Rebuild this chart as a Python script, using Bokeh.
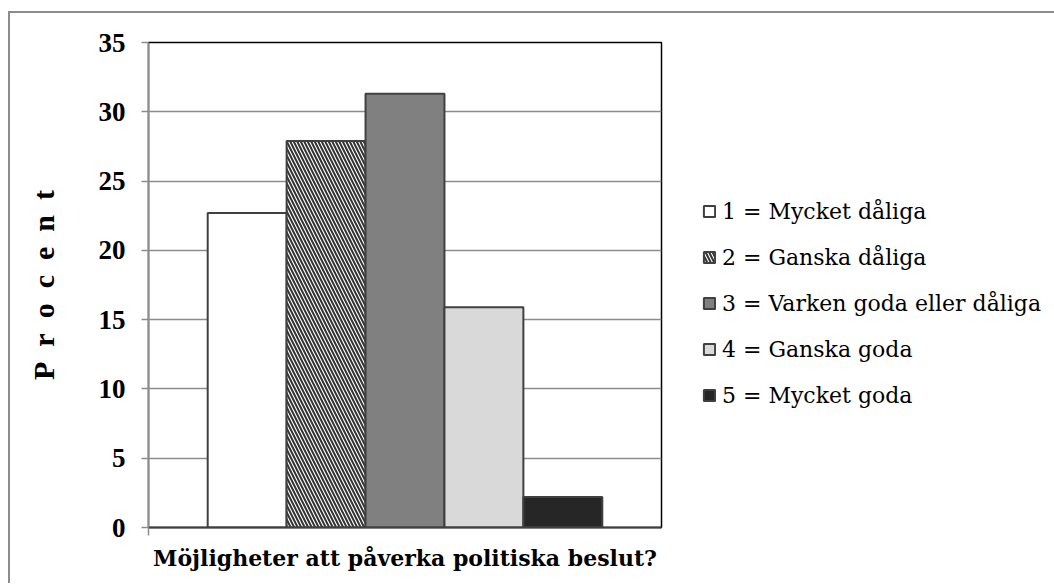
from bokeh.plotting import figure
from bokeh.models import Legend, LegendItem, FixedTicker, Range1d
from bokeh.embed import file_html
from bokeh.resources import INLINE

categories = ["1 = Mycket dåliga", "2 = Ganska dåliga", "3 = Varken goda eller dåliga",
              "4 = Ganska goda", "5 = Mycket goda"]
values = [22.7, 27.9, 31.3, 15.9, 2.2]
positions = [1, 2, 3, 4, 5]
y_ticks = [0, 5, 10, 15, 20, 25, 30, 35]
x_title = "Möjligheter att påverka politiska beslut?"
y_title = "\u00a0\u00a0".join("Procent")

fills = ["#ffffff", "#ffffff", "#808080", "#d9d9d9", "#262626"]
hatches = [" ", "\\", " ", " ", " "]

p = figure(frame_width=513, frame_height=485, output_backend="svg", toolbar_location=None,
           x_range=Range1d(-0.25, 6.25), y_range=Range1d(0, 35),
           min_border_left=138, min_border_top=29, min_border_bottom=56, min_border_right=389)
p.styles = {"border-top": "2px solid #8c8c8c", "border-left": "2px solid #8c8c8c",
            "margin-top": "11px", "margin-left": "8px"}
p.outline_line_color = "#000000"
p.outline_line_width = 1.5
p.background_fill_color = "#ffffff"
p.border_fill_color = "#ffffff"

p.xgrid.visible = False
p.ygrid.grid_line_color = "#8c8c8c"
p.ygrid.grid_line_width = 1.5
p.ygrid.ticker = FixedTicker(ticks=y_ticks)

serif_b = "Liberation Serif"
ya = p.yaxis[0]
ya.ticker = FixedTicker(ticks=y_ticks)
ya.axis_line_color = "#8c8c8c"
ya.axis_line_width = 1.5
ya.major_tick_line_color = "#8c8c8c"
ya.major_tick_line_width = 1.5
ya.major_tick_in = 0
ya.major_tick_out = 7
ya.minor_tick_line_color = None
ya.major_label_text_font = serif_b
ya.major_label_text_font_style = "bold"
ya.major_label_text_font_size = "27px"
ya.major_label_text_color = "#000000"
ya.major_label_standoff = 16
ya.axis_label = y_title
ya.axis_label_text_font = serif_b
ya.axis_label_text_font_style = "bold"
ya.axis_label_text_font_size = "30px"
ya.axis_label_text_color = "#000000"
ya.axis_label_standoff = 36

xa = p.xaxis[0]
xa.ticker = FixedTicker(ticks=[-0.25])
xa.major_label_overrides = {-0.25: ""}
xa.major_label_text_font_size = "1px"
xa.axis_line_color = "#404040"
xa.axis_line_width = 2
xa.major_tick_line_color = "#8c8c8c"
xa.major_tick_line_width = 1.5
xa.major_tick_in = 0
xa.major_tick_out = 8
xa.minor_tick_line_color = None
xa.axis_label = x_title
xa.axis_label_text_font = "DejaVu Serif"
xa.axis_label_text_font_style = "bold"
xa.axis_label_text_font_size = "22px"
xa.axis_label_text_color = "#000000"
xa.axis_label_standoff = 9

items = []
for i in range(5):
    r = p.vbar(x=[positions[i]], top=[values[i]], width=1.0, bottom=0,
               fill_color=fills[i], line_color="#404040", line_width=2,
               hatch_pattern=hatches[i], hatch_color="#333333", hatch_scale=7, hatch_weight=2)
    items.append(LegendItem(label=categories[i], renderers=[r]))

legend = Legend(items=items, location=(41, 119))
legend.border_line_color = None
legend.background_fill_alpha = 0
legend.margin = 0
legend.padding = 0
legend.glyph_width = 14
legend.glyph_height = 14
legend.label_height = 26
legend.spacing = 20
legend.label_standoff = 6
legend.label_text_font = "DejaVu Serif"
legend.label_text_font_size = "22px"
legend.label_text_color = "#000000"
p.add_layout(legend, "right")

open("out.html", "w").write(file_html(p, INLINE))
